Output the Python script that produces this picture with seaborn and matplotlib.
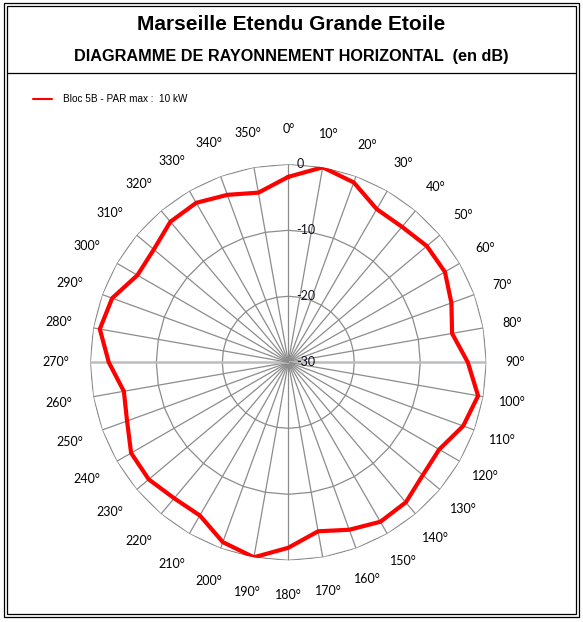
import numpy as np
import seaborn as sns
from matplotlib import pyplot as plt
from matplotlib.patches import Rectangle
from matplotlib.lines import Line2D

# azimuth (deg) and relative gain (dB)
azimuths = [0, 10, 20, 30, 40, 50, 60, 70, 80, 90, 100, 110,
            120, 130, 140, 150, 160, 170, 180, 190, 200, 210, 220, 230,
            240, 250, 260, 270, 280, 290, 300, 310, 320, 330, 340, 350]
gains = [-1.9, 0.0, -1.0, -3.2, -3.2, -2.6, -2.6, -3.7, -4.8, -2.8, -0.8, -1.8,
         -3.6, -3.4, -2.3, -2.1, -3.0, -4.0, -1.9, 0.0, -1.0, -3.2, -3.1, -2.4,
         -2.5, -4.0, -4.7, -2.8, -1.0, -1.6, -3.6, -3.4, -2.2, -2.1, -3.0, -3.9]
rings = [-30, -20, -10, 0]
ring_labels = ['-30', '-20', '-10', '0']
title = 'Marseille Etendu Grande Etoile'
subtitle = 'DIAGRAMME DE RAYONNEMENT HORIZONTAL  (en dB)'
legend_label = 'Bloc 5B - PAR max :  10 kW'

W, H = 583, 622
sns.set_style('white')
plt.rcParams['font.family'] = ['Liberation Sans', 'DejaVu Sans']
plt.rcParams['text.color'] = 'black'
fig = plt.figure(figsize=(W / 100, H / 100), dpi=100)

# frame
for x0, y0, x1, y1 in [(3.5, 3, 578.5, 616.5), (6.5, 6, 576, 614)]:
    fig.patches.append(Rectangle((x0 / W, 1 - y1 / H), (x1 - x0) / W, (y1 - y0) / H,
                                 transform=fig.transFigure, fill=False,
                                 edgecolor='black', lw=0.9))
fig.add_artist(Line2D([6.5 / W, 576 / W], [1 - 73 / H] * 2, color='black', lw=0.9))

fig.text(0.5, 1 - 30 / H, title, ha='center', va='baseline',
         fontsize=15, fontweight='bold')
fig.text(0.5, 1 - 60.5 / H, subtitle, ha='center', va='baseline',
         fontsize=11.7, fontweight='bold')

# legend
fig.add_artist(Line2D([33 / W, 52 / W], [1 - 99 / H] * 2, color='red', lw=1.5))
fig.text(63 / W, 1 - 101.7 / H, legend_label, ha='left', va='baseline', fontsize=7.2)

# polar axes, centre (288.3, 362.3) px, radius 198 px
cx, cy, R = 288.3, 362.3, 198
ax = fig.add_axes([(cx - R) / W, (H - cy - R) / H, 2 * R / W, 2 * R / H],
                  projection='polar')
ax.set_theta_zero_location('N')
ax.set_theta_direction(-1)
ax.set_ylim(-30, 0)
ax.grid(False)
ax.spines['polar'].set_visible(False)
ax.set_xticks([])
ax.set_yticks([])
ax.set_facecolor('none')

theta = np.deg2rad(azimuths)
theta_closed = np.append(theta, 2 * np.pi)

# polygonal rings
for r in rings[1:]:
    ax.plot(theta_closed, [r] * len(theta_closed), color='#8c8c8c', lw=0.9, zorder=1)
# spokes
for t, a in zip(theta, azimuths):
    if a in (90, 270):
        ax.plot([t, t], [rings[0], rings[-1]], color='#bdbdbd', lw=1.8, zorder=1)
    else:
        ax.plot([t, t], [rings[0], rings[-1]], color='#8c8c8c', lw=0.9, zorder=1)

sns.lineplot(x=theta_closed, y=np.append(gains, gains[0]), ax=ax, sort=False,
             estimator=None, color='red', lw=3, zorder=3)
ax.set_xlabel('')
ax.set_ylabel('')

# radial labels
for r, lab in zip(rings, ring_labels):
    ax.annotate(lab, (0, r), xytext=(8, 0), textcoords='offset pixels',
                ha='left', va='center', fontsize=9, family=['Lato', 'DejaVu Sans'],
                color='#101020', zorder=4)

# azimuth labels
scale = R / 30.0
for t, a in zip(theta, azimuths):
    dist = 233 - 6 * max(np.sin(t), 0)
    ax.text(t, -30 + dist / scale, f'{a}°', ha='center', va='center',
            fontsize=9, family=['Lato', 'DejaVu Sans'], clip_on=False)

fig.savefig('out.png', dpi=100)
